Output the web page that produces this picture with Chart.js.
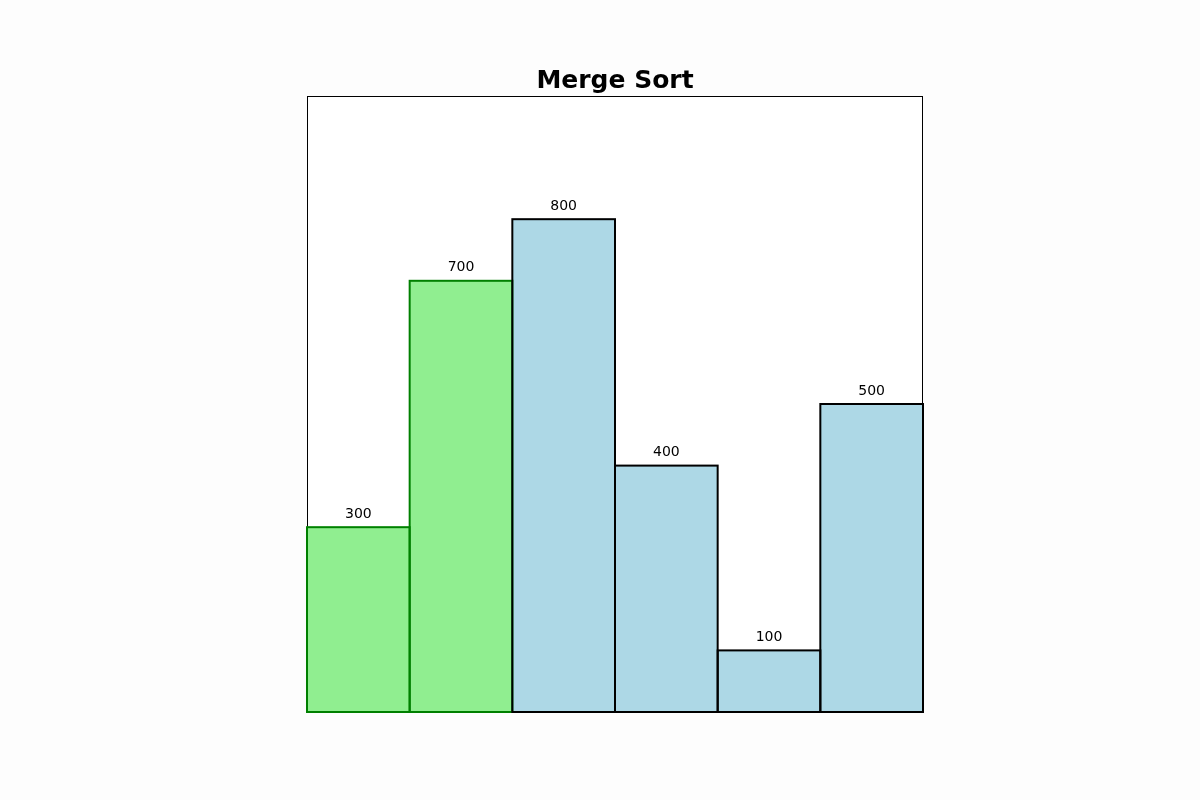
<!DOCTYPE html>
<html>
<head>
<meta charset="utf-8">
<script src="https://cdn.jsdelivr.net/npm/chart.js@4"></script>
<style>
  html, body { margin: 0; padding: 0; background: #fdfdfd; }
  #wrap { width: 1200px; height: 800px; }
</style>
</head>
<body>
<div id="wrap"><canvas id="chart" width="1200" height="800"></canvas></div>
<script>
// Data
const categories = ['0', '1', '2', '3', '4', '5'];
const values = [300, 700, 800, 400, 100, 500];
const fillColors = ['#90ee90', '#90ee90', '#add8e6', '#add8e6', '#add8e6', '#add8e6'];
const edgeColors = ['#008000', '#008000', '#000000', '#000000', '#000000', '#000000'];

// white plot area + thin frame
const frame = {
    id: 'frame',
    beforeDraw(chart) {
        const { ctx, chartArea: a } = chart;
        ctx.save();
        ctx.fillStyle = '#ffffff';
        ctx.fillRect(a.left, a.top, a.right - a.left, a.bottom - a.top);
        ctx.strokeStyle = '#000';
        ctx.lineWidth = 1;
        ctx.strokeRect(a.left + 0.5, a.top + 0.5, a.right - a.left - 1, a.bottom - a.top);
        ctx.restore();
    }
};

// bar outlines centred on the edges (matplotlib style) + value labels
const barEdges = {
    id: 'barEdges',
    afterDatasetsDraw(chart) {
        const { ctx } = chart;
        const meta = chart.getDatasetMeta(0);
        ctx.save();
        ctx.lineWidth = 2;
        meta.data.forEach((bar, i) => {
            const left = bar.x - bar.width / 2;
            ctx.strokeStyle = edgeColors[i];
            ctx.strokeRect(left, bar.y, bar.width, bar.base - bar.y);
        });
        ctx.font = '14px "DejaVu Sans"';
        ctx.fillStyle = '#000';
        ctx.textAlign = 'center';
        ctx.textBaseline = 'middle';
        meta.data.forEach((bar, i) => {
            ctx.fillText(String(values[i]), bar.x, bar.y - 13);
        });
        ctx.restore();
    }
};

new Chart(document.getElementById('chart'), {
    type: 'bar',
    data: {
        labels: categories,
        datasets: [{
            data: values,
            backgroundColor: fillColors,
            borderWidth: 0,
            categoryPercentage: 1.0,
            barPercentage: 1.0
        }]
    },
    options: {
        responsive: false,
        animation: false,
        layout: { padding: { left: 307, right: 277, top: 56, bottom: 88 } },
        plugins: {
            legend: { display: false },
            tooltip: { enabled: false },
            title: {
                display: true,
                text: 'Merge Sort',
                color: '#000',
                font: { family: 'DejaVu Sans', size: 25, weight: 'bold', lineHeight: 1.2 },
                padding: { top: 10, bottom: 0 }
            }
        },
        scales: {
            x: { display: false },
            y: { display: false, min: 0, max: 1000 }
        }
    },
    plugins: [frame, barEdges]
});
</script>
</body>
</html>
